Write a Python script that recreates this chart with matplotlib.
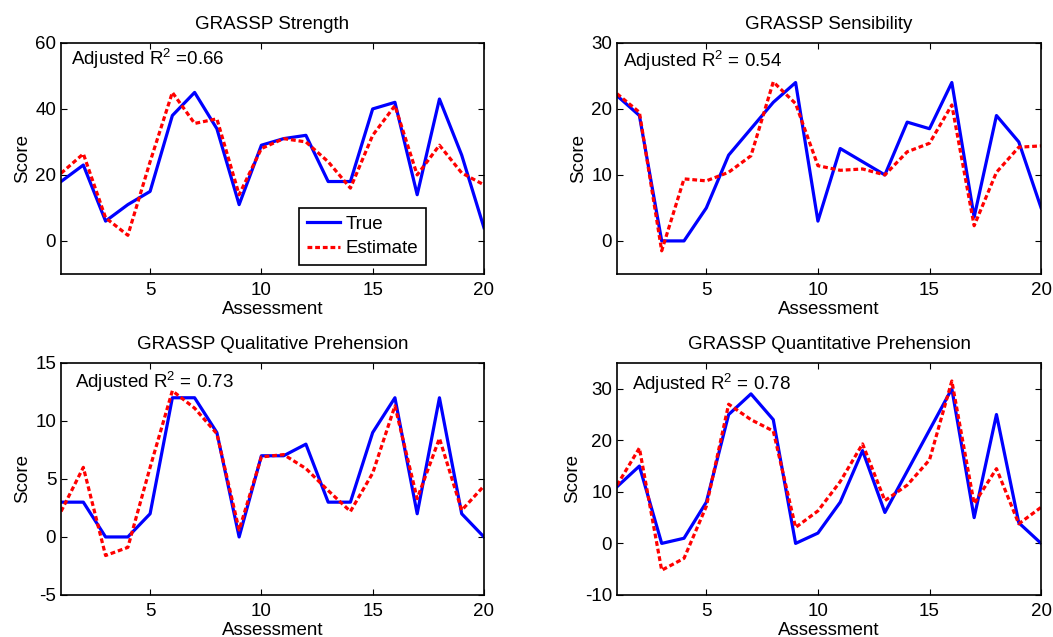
import numpy as np
import matplotlib
matplotlib.use('Agg')
import matplotlib.pyplot as plt

plt.rcParams['font.family'] = ['Liberation Sans', 'DejaVu Sans']
plt.rcParams['mathtext.fontset'] = 'custom'
plt.rcParams['mathtext.rm'] = 'Liberation Sans'
plt.rcParams['mathtext.default'] = 'regular'
plt.rcParams['axes.unicode_minus'] = False

# Data
assessment = np.arange(1, 21)

strength_true = [18, 23, 6, 11, 15, 38, 45, 34, 11, 29, 31, 32, 18, 18, 40, 42, 14, 43, 26, 4]
strength_est = [20.5, 26.4, 7, 1.7, 24, 45, 35.6, 37, 14, 28, 31, 30, 24, 16, 32, 41, 20, 29, 20.6, 17]

sens_true = [22, 19, 0, 0, 5, 13, 17, 21, 24, 3, 14, 12, 10, 18, 17, 24, 3.6, 19, 15, 5]
sens_est = [22.3, 19.5, -1.5, 9.4, 9.1, 10.4, 12.9, 24.1, 20.8, 11.4, 10.7, 10.9, 10, 13.5, 14.8, 20.6, 2.3, 10.4, 14.2, 14.4]

qual_true = [3, 3, 0, 0, 2, 12, 12, 9, 0, 7, 7, 8, 3, 3, 9, 12, 2, 12, 2, 0]
qual_est = [2.2, 6, -1.6, -0.9, 6, 12.6, 11.1, 8.9, 0.6, 6.9, 7.1, 5.9, 4, 2.2, 5.5, 11.3, 3.3, 8.5, 2.3, 4.4]

quant_true = [11, 15, 0, 1, 8, 25, 29, 24, 0, 2, 8, 18, 6, 14, 22, 30, 5, 25, 4, 0]
quant_est = [11.3, 18.5, -5.2, -2.9, 7.2, 27, 24, 21.8, 3.1, 6.3, 12, 19.3, 8.3, 11.3, 16.2, 31.5, 7.7, 14.5, 3.8, 7]

titles = ['GRASSP Strength', 'GRASSP Sensibility',
          'GRASSP Qualitative Prehension', 'GRASSP Quantitative Prehension']
r2_labels = ['Adjusted R$^2$ =0.66', 'Adjusted R$^2$ = 0.54',
             'Adjusted R$^2$ = 0.73', 'Adjusted R$^2$ = 0.78']
ylims = [(-10, 60), (-5, 30), (-5, 15), (-10, 35)]
yticks = [[0, 20, 40, 60], [0, 10, 20, 30], [-5, 0, 5, 10, 15], [-10, 0, 10, 20, 30]]
true_vals = [strength_true, sens_true, qual_true, quant_true]
est_vals = [strength_est, sens_est, qual_est, quant_est]

# axes positions in figure fraction [left, bottom, width, height]
positions = [[0.058, 0.570, 0.4016, 0.3626],
             [0.586, 0.570, 0.4027, 0.3626],
             [0.058, 0.066, 0.4016, 0.3642],
             [0.586, 0.066, 0.4027, 0.3642]]
text_pos = [(0.024, 0.93), (0.015, 0.92), (0.033, 0.918), (0.035, 0.909)]

fig = plt.figure(figsize=(10.53, 6.37), dpi=100)

for i in range(4):
    ax = fig.add_axes(positions[i])
    ax.plot(assessment, true_vals[i], color='#0000ff', lw=2.3, label='True')
    ax.plot(assessment, est_vals[i], color='#ff0000', lw=2.3, dashes=(1.5, 0.9), label='Estimate')
    ax.set_xlim(1, 20)
    ax.set_ylim(*ylims[i])
    ax.set_xticks([5, 10, 15, 20])
    ax.set_yticks(yticks[i])
    ax.tick_params(direction='in', top=True, right=True, labelsize=13.5, length=4, width=0.8)
    ax.tick_params(axis='x', pad=6)
    for s in ax.spines.values():
        s.set_linewidth(1.2)
    ax.set_title(titles[i], fontsize=13.5, pad=10)
    ax.set_xlabel('Assessment', fontsize=13.5, labelpad=1)
    ax.set_ylabel('Score', fontsize=13.5, labelpad=3)
    ax.text(text_pos[i][0], text_pos[i][1], r2_labels[i], transform=ax.transAxes,
            fontsize=13.5, va='center', ha='left')
    if i == 0:
        leg = ax.legend(loc='lower right', bbox_to_anchor=(0.863, 0.039), fontsize=13.5,
                        fancybox=False, edgecolor='black', framealpha=1,
                        handlelength=1.8, handletextpad=0.3, borderpad=0.4,
                        labelspacing=0.4, borderaxespad=0)
        leg.get_frame().set_linewidth(1.2)

fig.savefig('out.png', dpi=100)
